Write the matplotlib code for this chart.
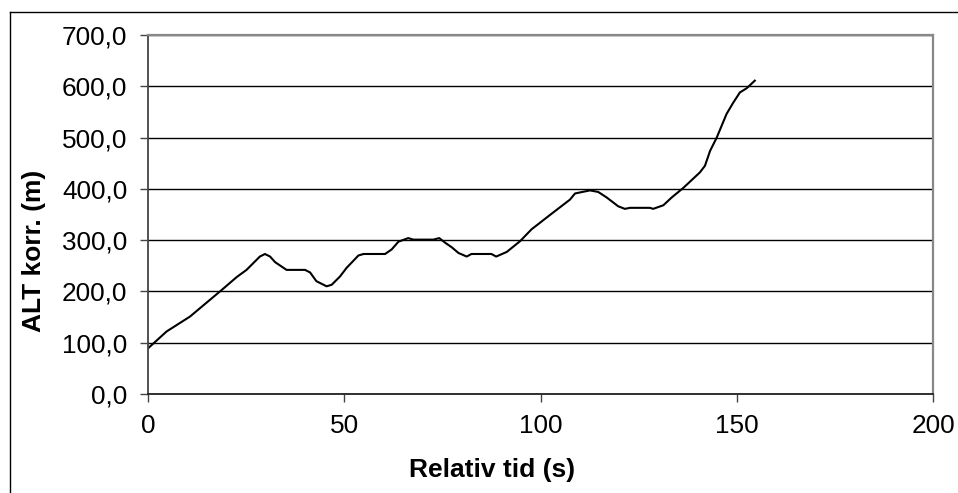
import matplotlib
matplotlib.use("Agg")
import matplotlib.pyplot as plt
from matplotlib.lines import Line2D
from matplotlib.ticker import FuncFormatter

# Data
tid = [0, 4.75, 10.7, 18.8, 22.6, 25.1, 28.5, 29.8, 31.1, 32.4, 35.3, 40.0,
       41.3, 42.9, 45.5, 46.8, 48.9, 50.6, 53.6, 54.9, 60.4, 62.1, 63.8, 66.3,
       67.6, 72.7, 74.2, 75.7, 77.4, 79.1, 81.2, 82.4, 87.5, 88.7, 91.4, 94.8,
       97.7, 102.4, 107.5, 108.8, 112.6, 114.7, 116.9, 119.8, 121.5, 122.8,
       127.9, 128.7, 131.3, 133.4, 136.4, 138.5, 140.6, 141.9, 143.2, 144.9,
       147.4, 149.1, 150.8, 152.5, 154.6]
alt = [89, 122, 151, 203, 228, 242, 268, 273, 268, 257, 242, 242,
       237, 220, 210, 213, 229, 246, 270, 273, 273, 282, 297, 304,
       301, 301, 304, 295, 286, 275, 268, 273, 273, 268, 277, 298,
       321, 349, 379, 391, 397, 394, 383, 366, 361, 363,
       363, 361, 368, 383, 402, 417, 432, 445, 474, 500,
       546, 568, 588, 596, 611]

x_ticks = [0, 50, 100, 150, 200]
y_ticks = [0, 100, 200, 300, 400, 500, 600, 700]

plt.rcParams['font.family'] = ['Liberation Sans', 'DejaVu Sans']

W, H = 958, 493
fig = plt.figure(figsize=(W / 100, H / 100), dpi=100)
ax = fig.add_axes([148 / W, (H - 394) / H, (933 - 148) / W, (394 - 35) / H])

ax.plot(tid, alt, color='black', linewidth=1.5, solid_joinstyle='round')

ax.set_xlim(0, 200)
ax.set_ylim(0, 700)
ax.set_xticks(x_ticks)
ax.set_yticks(y_ticks)
ax.yaxis.set_major_formatter(FuncFormatter(lambda v, p: f"{v:.1f}".replace('.', ',')))
ax.grid(axis='y', color='black', linewidth=1.0)
ax.set_axisbelow(True)

for s in ['top', 'right']:
    ax.spines[s].set_color('#888888')
    ax.spines[s].set_linewidth(1.6)
ax.spines['left'].set_color('#444444')
ax.spines['left'].set_linewidth(1.3)
ax.spines['bottom'].set_color('#222222')
ax.spines['bottom'].set_linewidth(1.3)

ax.tick_params(axis='both', direction='out', length=5.5, width=1, color='#444444',
               labelsize=18.8)
ax.tick_params(axis='y', pad=9.5)
ax.tick_params(axis='x', pad=9)

ax.set_xlabel('Relativ tid (s)', fontsize=19, fontweight='bold')
ax.set_ylabel('ALT korr. (m)', fontsize=19, fontweight='bold')
ax.xaxis.label.set_va('baseline')
ax.xaxis.set_label_coords((492 - 148) / 785, (394 - 477) / 359)
ax.yaxis.label.set_va('baseline')
ax.yaxis.set_label_coords((41 - 148) / 785, (394 - 251) / 359)

# outer chart frame
fig.add_artist(Line2D([9.5 / W, 9.5 / W], [0, (H - 12) / H], transform=fig.transFigure,
                      color='black', linewidth=1.0))
fig.add_artist(Line2D([9.5 / W, 1], [(H - 12) / H, (H - 12) / H], transform=fig.transFigure,
                      color='black', linewidth=1.0))

fig.savefig('out.png', dpi=100)
